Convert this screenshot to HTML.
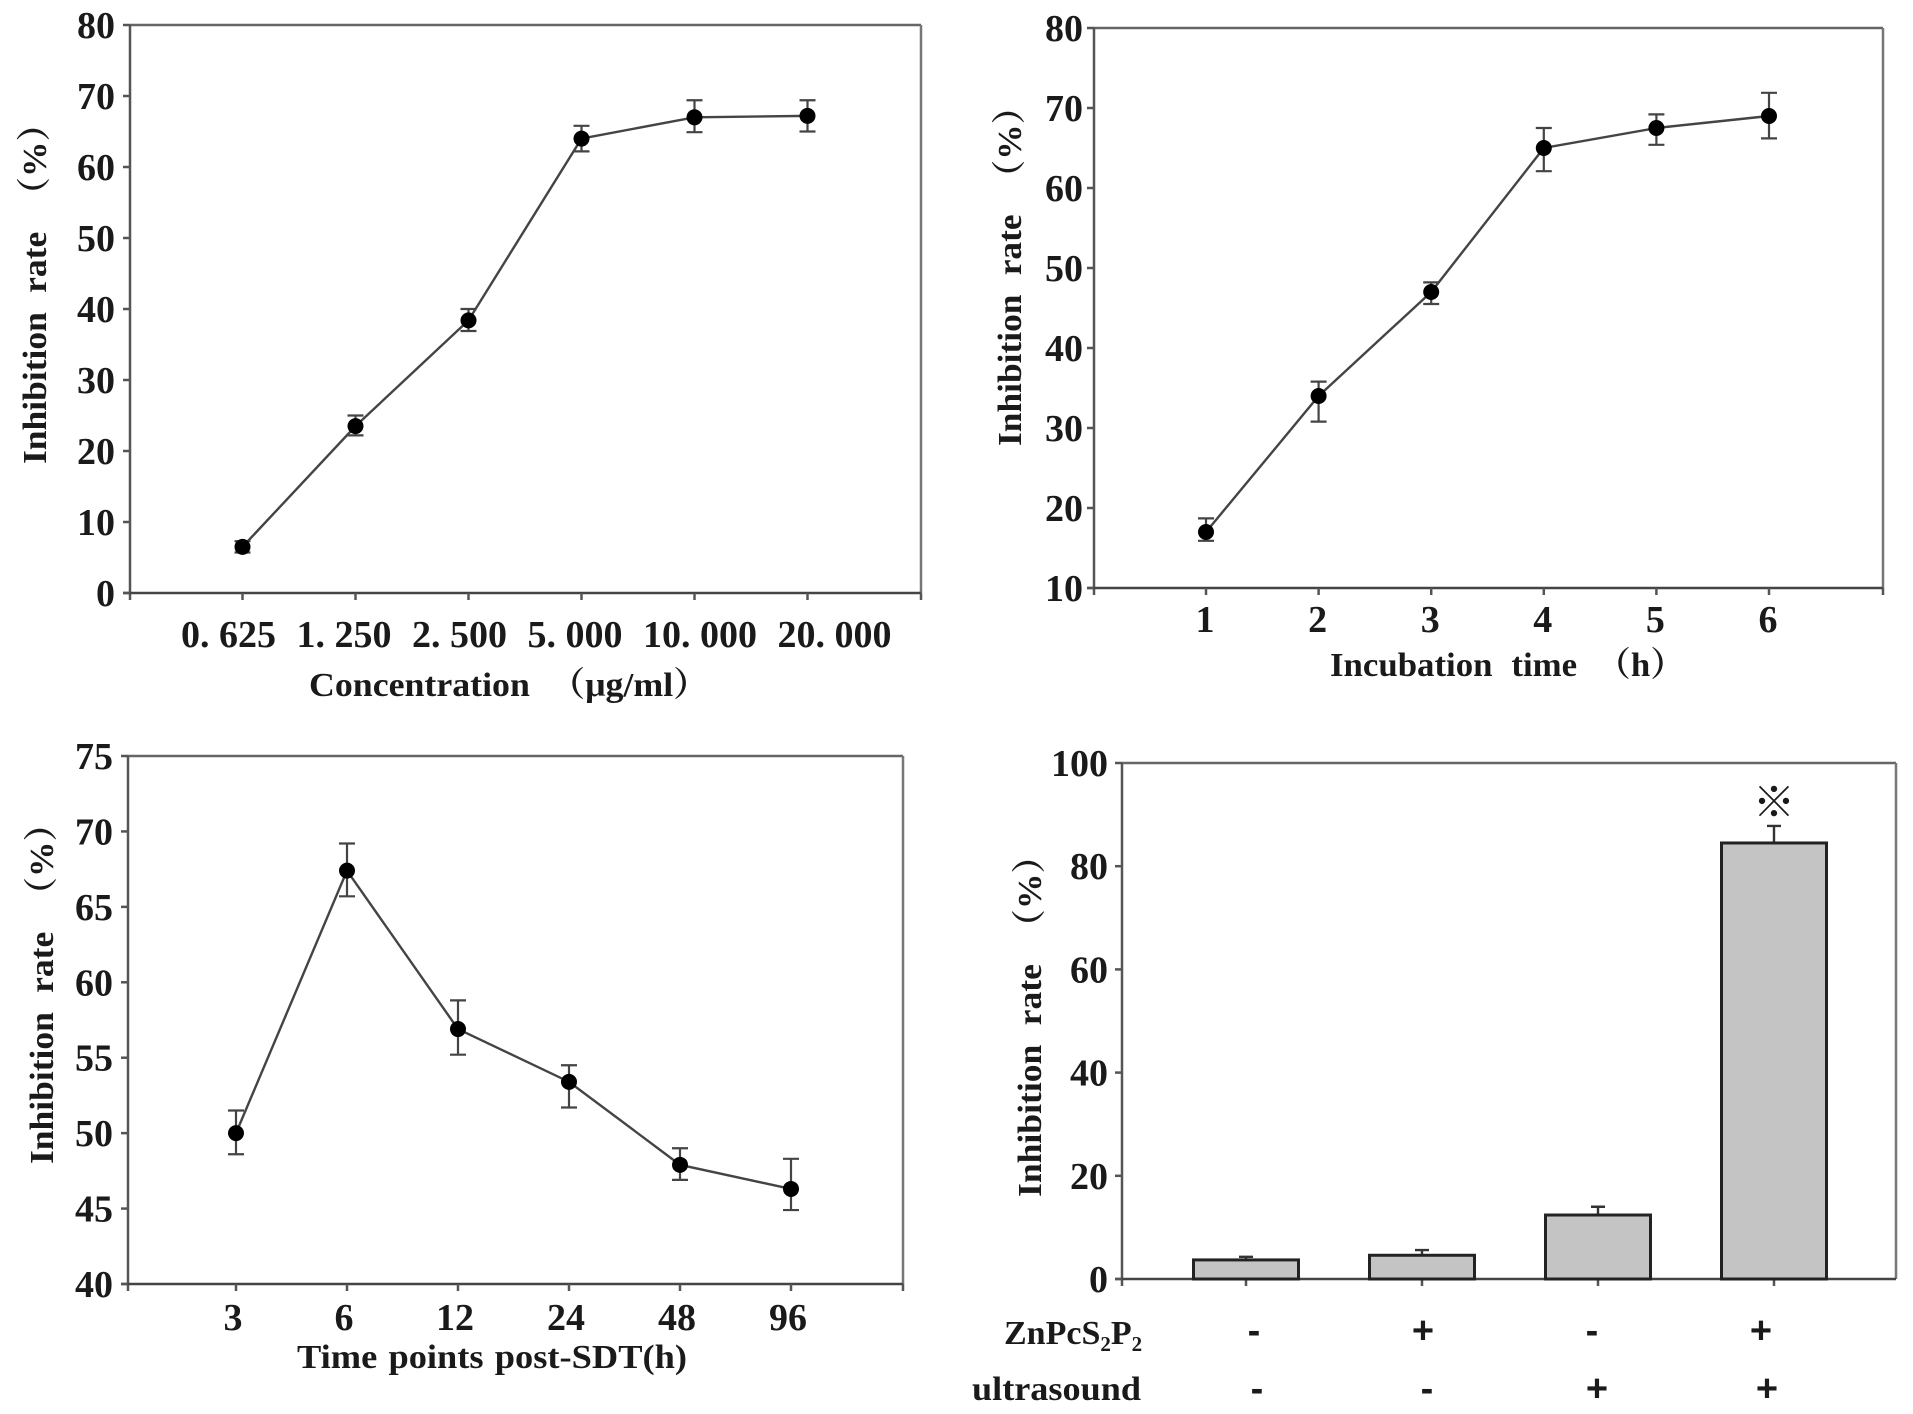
<!DOCTYPE html>
<html lang="en">
<head>
<meta charset="utf-8">
<title>Inhibition rate charts</title>
<style>
html,body{margin:0;padding:0;background:#fff;}
svg{display:block;}
text{font-family:"Liberation Serif","Noto Serif CJK SC",serif;font-weight:bold;fill:#1a1a1a;}
.tick{font-size:38px;}
.title{font-size:34px;word-spacing:10px;}
</style>
</head>
<body>
<svg id="fig" xmlns="http://www.w3.org/2000/svg" width="1913" height="1414" viewBox="0 0 1913 1414">
  <text class="title" transform="translate(46 464) rotate(-90)" textLength="358" lengthAdjust="spacingAndGlyphs">Inhibition rate （%）</text>
  <text class="title" x="309" y="696" textLength="400" lengthAdjust="spacingAndGlyphs">Concentration （μg/ml）</text>
  <text class="title" transform="translate(1021 446) rotate(-90)" textLength="357" lengthAdjust="spacingAndGlyphs">Inhibition rate （%）</text>
  <text class="title" x="1330" y="676" textLength="355" lengthAdjust="spacingAndGlyphs">Incubation time （h）</text>
  <text class="title" transform="translate(53 1164) rotate(-90)" textLength="358" lengthAdjust="spacingAndGlyphs">Inhibition rate （%）</text>
  <text class="title" x="297" y="1368" textLength="390" lengthAdjust="spacingAndGlyphs" style="word-spacing:2px">Time points post-SDT(h)</text>
  <text class="title" transform="translate(1041 1197) rotate(-90)" textLength="359" lengthAdjust="spacingAndGlyphs">Inhibition rate （%）</text>
  <text class="title" x="1004" y="1344" style="font-size:34px">ZnPcS<tspan font-size="21" dy="7">2</tspan><tspan dy="-7">P</tspan><tspan font-size="21" dy="7">2</tspan></text>
  <text class="title" x="972" y="1400" textLength="169" lengthAdjust="spacingAndGlyphs">ultrasound</text>
  <text x="1774" y="817" text-anchor="middle" style="font-size:42px;font-family:'Noto Sans CJK SC',sans-serif;font-weight:normal">※</text>
</svg>
<script>
// Panel A
const categoriesA = ['0. 625', '1. 250', '2. 500', '5. 000', '10. 000', '20. 000'];
const valuesA = [6.5, 23.5, 38.4, 64, 67, 67.2];
const upperA = [7.3, 25, 40, 65.8, 69.4, 69.4];
const lowerA = [5.7, 22.2, 36.9, 62.2, 64.9, 65];
const yTicksA = [0, 10, 20, 30, 40, 50, 60, 70, 80];
// Panel B
const categoriesB = ['1', '2', '3', '4', '5', '6'];
const valuesB = [17, 34, 47, 65, 67.5, 69];
const upperB = [18.7, 35.8, 48.2, 67.5, 69.2, 71.9];
const lowerB = [15.9, 30.8, 45.5, 62.1, 65.4, 66.2];
const yTicksB = [10, 20, 30, 40, 50, 60, 70, 80];
// Panel C
const categoriesC = ['3', '6', '12', '24', '48', '96'];
const valuesC = [50, 67.4, 56.9, 53.4, 47.9, 46.3];
const upperC = [51.5, 69.2, 58.8, 54.5, 49, 48.3];
const lowerC = [48.6, 65.7, 55.2, 51.7, 46.9, 44.9];
const yTicksC = [40, 45, 50, 55, 60, 65, 70, 75];
// Panel D
const valuesD = [3.7, 4.6, 12.4, 84.5];
const upperD = [4.3, 5.6, 14, 87.8];
const yTicksD = [0, 20, 40, 60, 80, 100];
const zincRow = ['-', '+', '-', '+'];
const ultrasoundRow = ['-', '-', '+', '+'];

const NS = 'http://www.w3.org/2000/svg';
const svg = document.getElementById('fig');
function make(tag, attrs, parent) {
  const el = document.createElementNS(NS, tag);
  for (const k in attrs) el.setAttribute(k, attrs[k]);
  (parent || svg).appendChild(el);
  return el;
}
function drawFrame(g, box, yTicks, yOf, count, xOf) {
  const top = make('line', {x1: box.left, x2: box.right, y1: box.top, y2: box.top, stroke: '#666', 'stroke-width': 2.5}, g);
  
  
  const right = make('line', {x1: box.right, x2: box.right, y1: box.top, y2: box.bottom, stroke: '#777', 'stroke-width': 2.5}, g);
  
  
  const yAxis = make('line', {x1: box.left, x2: box.left, y1: box.top, y2: box.bottom + 7, stroke: '#555', 'stroke-width': 2.5}, g);
  
  
  const xAxis = make('line', {x1: box.left - 7, x2: box.right, y1: box.bottom, y2: box.bottom, stroke: '#444', 'stroke-width': 2.5}, g);
  
  
  yTicks.forEach(function (t) {
    const m = make('line', {x1: box.left - 7, x2: box.left, y1: yOf(t), y2: yOf(t), stroke: '#555', 'stroke-width': 2.5}, g);
    
    
    const l = make('text', {class: 'tick', x: box.labelRight, y: yOf(t) + 13, 'text-anchor': 'end'}, g);
    
    
    l.textContent = t;
  });
  for (let i = 0; i < count; i++) {
    const m = make('line', {x1: xOf(i), x2: xOf(i), y1: box.bottom, y2: box.bottom + 7, stroke: '#555', 'stroke-width': 2.5}, g);
    
    
  }
  if (box.rightTick) {
    const m = make('line', {x1: box.right, x2: box.right, y1: box.bottom, y2: box.bottom + 7, stroke: '#555', 'stroke-width': 2.5}, g);
    
    
  }
}
function drawLinePanel(name, box, cats, vals, up, low, yTicks) {
  const g = make('g', {});
  
  
  const min = yTicks[0], max = yTicks[yTicks.length - 1];
  const yOf = v => box.bottom - (v - min) / (max - min) * (box.bottom - box.top);
  const xOf = i => box.x0 + box.step * i;
  drawFrame(g, box, yTicks, yOf, cats.length, xOf);
  const line = make('polyline', {points: vals.map((v, i) => xOf(i) + ',' + yOf(v)).join(' '), fill: 'none', stroke: '#444', 'stroke-width': 2.4}, g);
  
  
  vals.forEach(function (v, i) {
    const x = xOf(i);
    const e = make('path', {d: 'M' + x + ' ' + yOf(up[i]) + 'V' + yOf(low[i]) + 'M' + (x - 8) + ' ' + yOf(up[i]) + 'h16M' + (x - 8) + ' ' + yOf(low[i]) + 'h16', fill: 'none', stroke: '#444', 'stroke-width': 2.2}, g);
    
    
    const c = make('circle', {cx: x, cy: yOf(v), r: 8, fill: '#000'}, g);
    
    
  });
  let flow = box.flowStart;
  cats.forEach(function (label, i) {
    const t = make('text', {class: 'tick', y: box.labelY}, g);
    
    
    t.textContent = label;
    t.setAttribute('style', 'white-space:pre');
    if (box.flowStart !== undefined) {
      t.setAttribute('x', flow);
      flow += t.getComputedTextLength() + box.flowGap;
    } else {
      t.setAttribute('x', xOf(i) + box.labelShift);
      t.setAttribute('text-anchor', 'middle');
    }
  });
}
drawLinePanel('panel-a-concentration', {left: 130, right: 921, top: 25, bottom: 593, x0: 242.5, step: 113, labelRight: 115, rightTick: true, labelY: 647, flowStart: 181, flowGap: 20.5}, categoriesA, valuesA, upperA, lowerA, yTicksA);
drawLinePanel('panel-b-incubation-time', {left: 1094, right: 1883, top: 28, bottom: 588, x0: 1206, step: 112.6, labelRight: 1083, rightTick: true, labelY: 632, labelShift: -1}, categoriesB, valuesB, upperB, lowerB, yTicksB);
drawLinePanel('panel-c-time-points', {left: 128, right: 903, top: 756, bottom: 1284, x0: 236, step: 111, labelRight: 113, rightTick: true, labelY: 1330, labelShift: -3}, categoriesC, valuesC, upperC, lowerC, yTicksC);

(function () {
  const box = {left: 1122, right: 1896, top: 763, bottom: 1279, x0: 1246, step: 176, labelRight: 1108};
  const g = make('g', {});
  
  
  const min = yTicksD[0], max = yTicksD[yTicksD.length - 1];
  const yOf = v => box.bottom - (v - min) / (max - min) * (box.bottom - box.top);
  const xOf = i => box.x0 + box.step * i;
  const barWidth = 105;
  const rowOneX = i => 1254 + 169 * i;
  const rowTwoX = i => 1257 + 170 * i;
  drawFrame(g, box, yTicksD, yOf, valuesD.length, xOf);
  valuesD.forEach(function (v, i) {
    const x = xOf(i);
    const e = make('path', {d: 'M' + x + ' ' + yOf(v) + 'V' + yOf(upperD[i]) + 'M' + (x - 7) + ' ' + yOf(upperD[i]) + 'h14', fill: 'none', stroke: '#333', 'stroke-width': 2.4}, g);
    
    
    const b = make('rect', {x: x - barWidth / 2, y: yOf(v), width: barWidth, height: yOf(0) - yOf(v), fill: '#c4c4c4', stroke: '#222', 'stroke-width': 3}, g);
    
    
  });
  zincRow.forEach(function (s, i) {
    const t = make('text', {x: rowOneX(i), y: 1343, 'text-anchor': 'middle', style: 'font-size:38px;font-family:Liberation Sans,sans-serif'}, g);
    
    
    t.textContent = s;
  });
  ultrasoundRow.forEach(function (s, i) {
    const t = make('text', {x: rowTwoX(i), y: 1401, 'text-anchor': 'middle', style: 'font-size:38px;font-family:Liberation Sans,sans-serif'}, g);
    
    
    t.textContent = s;
  });
})();
</script>
</body>
</html>
